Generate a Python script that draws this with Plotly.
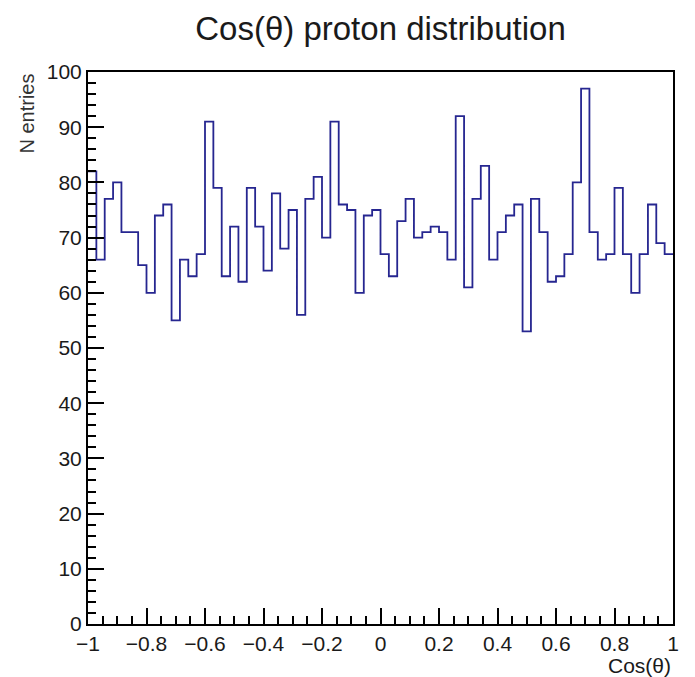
import numpy as np
import plotly.graph_objects as go

# Histogram definition: 70 equal bins on [-1, 1]
x_min, x_max = -1.0, 1.0
n_bins = 70
counts = [82, 66, 77, 80, 71, 71, 65, 60, 74, 76,
          55, 66, 63, 67, 91, 79, 63, 72, 62, 79,
          72, 64, 78, 68, 75, 56, 77, 81, 70, 91,
          76, 75, 60, 74, 75, 67, 63, 73, 77, 70,
          71, 72, 71, 66, 92, 61, 77, 83, 66, 71,
          74, 76, 53, 77, 71, 62, 63, 67, 80, 97,
          71, 66, 67, 79, 67, 60, 67, 76, 69, 67]

x_tick_vals = [-1.0, -0.8, -0.6, -0.4, -0.2, 0.0, 0.2, 0.4, 0.6, 0.8, 1.0]
x_tick_text = ["\u22121", "\u22120.8", "\u22120.6", "\u22120.4", "\u22120.2",
               "0", "0.2", "0.4", "0.6", "0.8", "1"]
y_tick_vals = [0, 10, 20, 30, 40, 50, 60, 70, 80, 90, 100]

title_text = "Cos(θ) proton distribution"
x_title = "Cos(θ)"
y_title = "N entries"

edges = np.linspace(x_min, x_max, n_bins + 1)
step_y = counts + [counts[-1]]

FONT = "Liberation Sans, Arial, Helvetica, sans-serif"

fig = go.Figure()
fig.add_trace(go.Scatter(
    x=edges, y=step_y, mode="lines", line_shape="hv",
    line=dict(color="#262690", width=1.8),
    hoverinfo="skip", showlegend=False,
))

axis_common = dict(
    showgrid=False, zeroline=False, automargin=False,
    showline=True, linecolor="black", linewidth=2, mirror=True,
    ticks="inside", ticklen=16, tickwidth=2, tickcolor="black",
    tickfont=dict(family=FONT, size=21, color="#1a1a1a"),
)

fig.update_xaxes(
    range=[x_min, x_max], tickmode="array",
    tickvals=x_tick_vals, ticktext=x_tick_text,
    minor=dict(tickmode="linear", tick0=-1, dtick=0.05, ticks="inside",
               ticklen=8, tickwidth=2, tickcolor="black"),
    **axis_common,
)
fig.update_yaxes(
    range=[0, 100], tickmode="array", tickvals=y_tick_vals,
    minor=dict(tickmode="linear", tick0=0, dtick=2, ticks="inside",
               ticklen=8, tickwidth=2, tickcolor="black"),
    **axis_common,
)

fig.update_layout(
    width=695, height=677,
    margin=dict(l=88, r=22, t=72, b=53),
    paper_bgcolor="white", plot_bgcolor="white",
    title=dict(text=title_text, x=0.5, xref="paper", xanchor="center",
               y=1 - 28 / 677, yref="container", yanchor="middle",
               font=dict(family=FONT, size=33, color="#1a1a1a")),
    annotations=[
        dict(text=x_title, xref="paper", yref="paper", x=1.0, y=-0.05,
             xanchor="right", yanchor="top", showarrow=False,
             font=dict(family=FONT, size=21, color="#1a1a1a")),
        dict(text=y_title, xref="paper", yref="paper", x=-0.105, y=1.0,
             xanchor="center", yanchor="top", textangle=-90, showarrow=False,
             font=dict(family=FONT, size=20, color="#333333")),
    ],
)

fig.write_html("out.html")
